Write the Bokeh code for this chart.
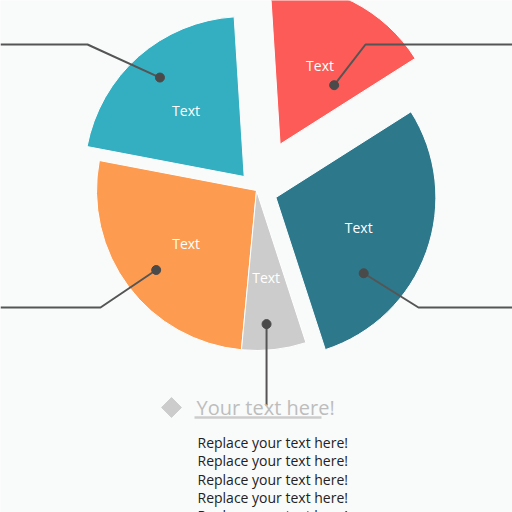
import math
from bokeh.plotting import figure
from bokeh.models import Range1d, ColumnDataSource
from bokeh.core.properties import value
from bokeh.embed import file_html
from bokeh.resources import INLINE

# ---- data ----
categories = ["Dark teal", "Red", "Teal", "Orange", "Gray"]
shares = [29, 17, 21, 26.5, 6.5]
slice_labels = ["Text", "Text", "Text", "Text", "Text"]
title_text = "Your text here!"
body_lines = ["Replace your text here!"] * 5

# ---- styles / layout ----
colors = ["#2e788c", "#fc5b57", "#33afc1", "#fd9c50", "#cccccc"]
explode = [20.6, 52, 18.6, 0, 0]
bg = "#f9fafa"
W = H = 512
cx, cy = 256, 322
R = 160
start_deg = -72
label_r = 88
dot_r = [116, 80, 130, 128, 134]
dot_da = [-21, -15.5, -1, 1.5, -2]
elbow_x = [418, 365, 87, 100, None]
elbow_y = [205, 468, 468, 205, None]
end_x = [W, W, 0, 0, None]
gray_line_end_y = 107
font = "Open Sans"

p = figure(width=W, height=H, output_backend="svg", toolbar_location=None,
           x_range=Range1d(0, W), y_range=Range1d(0, H),
           x_axis_location=None, y_axis_location=None, min_border=0)
p.outline_line_color = None
p.grid.visible = False
p.background_fill_color = bg
p.border_fill_color = bg

total = sum(shares)
starts, ends, xs, ys, mids = [], [], [], [], []
a = math.radians(start_deg)
for v, d in zip(shares, explode):
    span = 2 * math.pi * v / total
    m = a + span / 2
    starts.append(a)
    ends.append(a + span)
    mids.append(m)
    xs.append(cx + d * math.cos(m))
    ys.append(cy + d * math.sin(m))
    a += span

src = ColumnDataSource(dict(x=xs, y=ys, s=starts, e=ends, c=colors))
p.wedge(x="x", y="y", radius=R, start_angle="s", end_angle="e",
        fill_color="c", line_color="white", line_width=1, source=src)

# labels
lx = [x + label_r * math.cos(m) for x, m in zip(xs, mids)]
ly = [y + label_r * math.sin(m) for y, m in zip(ys, mids)]
p.text(x=lx, y=ly, text=slice_labels, text_color="white", text_font=value(font),
       text_font_size="14px", text_align="center", text_baseline="middle")

# leader lines + dots
dx_, dy_ = [], []
for i in range(len(shares)):
    ang = mids[i] + math.radians(dot_da[i])
    px = xs[i] + dot_r[i] * math.cos(ang)
    py = ys[i] + dot_r[i] * math.sin(ang)
    dx_.append(px)
    dy_.append(py)
    if elbow_x[i] is not None:
        p.line([px, elbow_x[i], end_x[i]], [py, elbow_y[i], elbow_y[i]],
               line_color="#555555", line_width=2)
    else:
        p.line([px, px], [py, gray_line_end_y], line_color="#555555", line_width=2)
p.scatter(dx_, dy_, size=9, color="#4a4a4a")

# bottom block
p.scatter([171], [105], marker="square", angle=math.pi / 4, size=14,
          color="#cccccc")
p.text(x=[196], y=[105], text=[title_text], text_color="#bdbdbd",
       text_font=value(font), text_font_size="20px", text_baseline="middle")
p.line([194, 321], [95, 95], line_color="#cccccc", line_width=2.5)
by = [512 - (442 + 18.3 * i) for i in range(len(body_lines))]
p.text(x=[197] * len(body_lines), y=by, text=body_lines, text_color="#222222",
       text_font=value(font), text_font_size="14px", text_baseline="middle")

open("out.html", "w").write(file_html(p, INLINE))
